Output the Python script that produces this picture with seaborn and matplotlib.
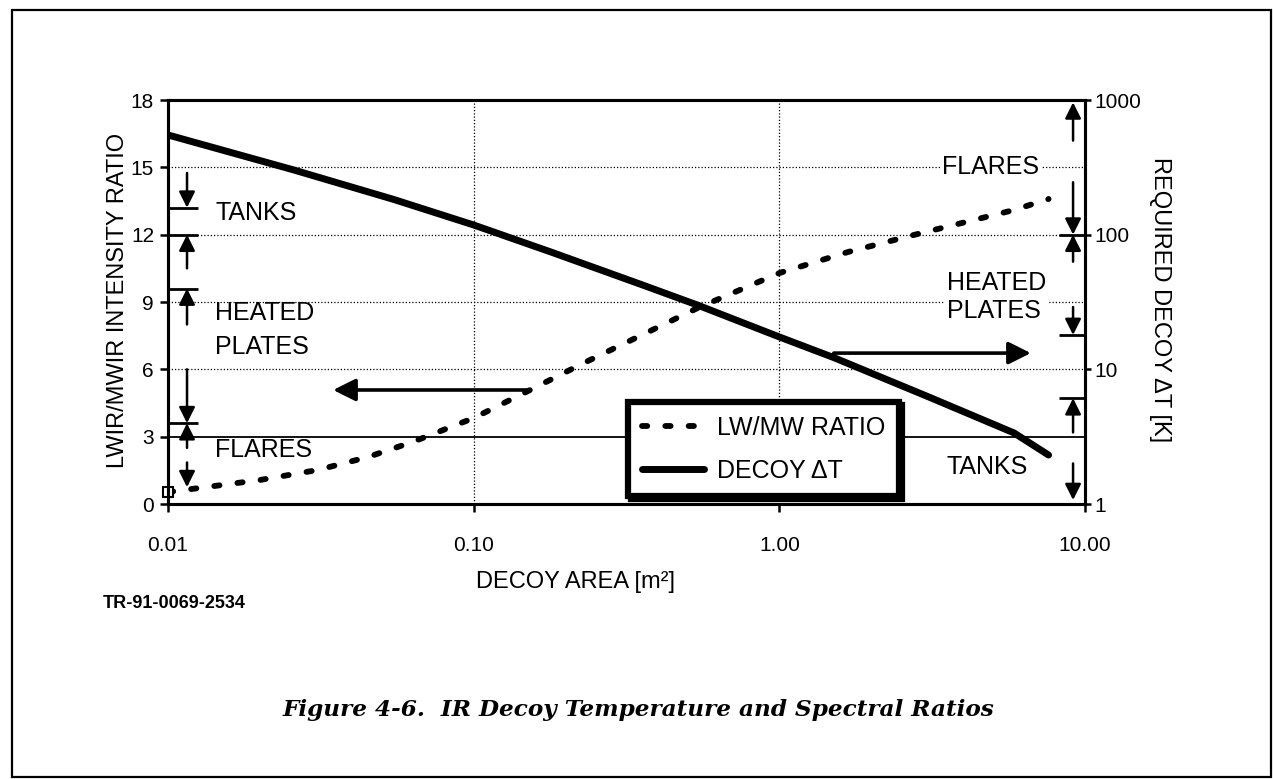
import matplotlib
matplotlib.use("Agg")
import matplotlib.pyplot as plt
from matplotlib.patches import Rectangle
from matplotlib.ticker import NullLocator
import pandas as pd
import seaborn as sns

# LW/MW intensity ratio vs decoy area (left axis)
ratio_area = [0.01, 0.02, 0.031, 0.045, 0.063, 0.10, 0.153, 0.229, 0.344, 0.54, 1.0, 1.68, 2.76, 5.86, 7.6]
ratio_values = [0.53, 1.07, 1.52, 2.09, 2.76, 3.83, 5.08, 6.28, 7.44, 8.73, 10.29, 11.23, 11.99, 13.10, 13.59]

# required decoy delta-T vs decoy area (right axis, log)
dt_area = [0.01, 0.0257, 0.0546, 0.10, 0.18, 0.36, 0.54, 1.0, 1.51, 3.1, 5.86, 7.6]
dt_values = [550, 303, 183, 118, 74, 42, 30, 17.4, 12.2, 6.2, 3.37, 2.31]

x_ticks = [0.01, 0.1, 1, 10]
x_tick_labels = ["0.01", "0.10", "1.00", "10.00"]
left_ticks = [0, 3, 6, 9, 12, 15, 18]
right_ticks = [1, 10, 100, 1000]
right_tick_labels = ["1", "10", "100", "1000"]

# band markers along the left axis (ratio units)
left_bar_levels = [13.2, 12.0, 9.6, 3.6]
left_arrows = [(14.75, 13.2), (10.5, 12.0), (8.0, 9.6), (6.0, 3.6), (2.5, 3.6), (1.85, 0.75)]
left_labels = ["TANKS", "HEATED\nPLATES", "FLARES"]
left_label_levels = [12.97, 7.75, 2.4]

# band markers along the right axis (delta-T units)
right_bar_levels = [100, 18, 6.1]
right_arrows = [(500, 960), (245, 100), (63, 100), (29, 18), (3.4, 6.1), (2.0, 1.07)]
right_labels = ["FLARES", "HEATED\nPLATES", "TANKS"]
right_label_levels = [316, 34.4, 1.88]

W, H = 1273, 779


def band_arrows(axis, x, pairs, lw=1.8, scale=24):
    for tail, head in pairs:
        axis.annotate("", xy=(x, head), xytext=(x, tail),
                      arrowprops=dict(arrowstyle="-|>", color="black", lw=lw,
                                      mutation_scale=scale, shrinkA=0, shrinkB=0))


sns.set_theme(style="white", rc={
    "axes.edgecolor": "black", "axes.linewidth": 2.2,
    "text.color": "black", "axes.labelcolor": "black",
    "xtick.color": "black", "ytick.color": "black",
})
plt.rcParams["font.family"] = ["Liberation Sans", "DejaVu Sans"]

fig = plt.figure(figsize=(W / 100, H / 100), dpi=100)
ax = fig.add_axes([168 / W, 1 - 504 / H, 917 / W, 404 / H])
ax.set_xscale("log")
ax2 = ax.twinx()
ax2.set_yscale("log")

ratio_df = pd.DataFrame({"area": ratio_area, "ratio": ratio_values})
dt_df = pd.DataFrame({"area": dt_area, "dt": dt_values})

sns.lineplot(data=ratio_df, x="area", y="ratio", ax=ax, color="black", lw=4.2,
             linestyle=(0, (0.9, 3.1)))
ax.lines[0].set_dash_capstyle("round")
ax.plot(ratio_area[:1], ratio_values[:1], marker="s", ms=7, mfc="white", mec="black",
        mew=1.5, ls="none", clip_on=False)
sns.lineplot(data=dt_df, x="area", y="dt", ax=ax2, color="black", lw=5)

ax.set_xlim(0.01, 10)
ax.set_ylim(0, 18)
ax2.set_ylim(1, 1000)

ax.set_xticks(x_ticks, x_tick_labels)
ax.xaxis.set_minor_locator(NullLocator())
ax.set_yticks(left_ticks)
ax2.set_yticks(right_ticks, right_tick_labels)
ax2.yaxis.set_minor_locator(NullLocator())
ax.tick_params(axis="x", bottom=True, direction="out", length=6, width=1.8, pad=17, labelsize=15)
ax.tick_params(axis="y", left=True, direction="out", length=6, width=1.8, pad=4, labelsize=15)
ax2.tick_params(axis="y", right=True, direction="out", length=4.5, width=1.8, pad=2, labelsize=15)

ax.grid(True, which="major", color="black", linestyle=(0, (1, 1.6)), linewidth=0.9)
ax.yaxis.get_gridlines()[1].set_linestyle("-")
ax.yaxis.get_gridlines()[1].set_linewidth(1.3)
ax2.grid(False)

ax.set_xlabel("DECOY AREA [m²]", fontsize=17, va="center")
ax.xaxis.set_label_coords((576 - 168) / 917, (504 - 582) / 404)
ax.set_ylabel("LWIR/MWIR INTENSITY RATIO", fontsize=17, va="center")
ax.yaxis.set_label_coords((118 - 168) / 917, 0.505)
ax2.set_ylabel("REQUIRED DECOY ΔT [K]", fontsize=17, rotation=270, va="center")
ax2.yaxis.set_label_coords((1160 - 168) / 917, 0.505)

# left-hand bands
ax.hlines(left_bar_levels, 0.0100, 0.0125, color="black", lw=2)
band_arrows(ax, 0.01154, left_arrows)
for text, lvl in zip(left_labels, left_label_levels):
    ax.text(0.0143, lvl, text, fontsize=18, ha="left", va="center", linespacing=1.55)

# right-hand bands
ax2.hlines(right_bar_levels, 8.2, 10, color="black", lw=2)
band_arrows(ax2, 9.14, right_arrows)
ax2.text(4.92, right_label_levels[0], right_labels[0], fontsize=18, ha="center", va="center",
         bbox=dict(facecolor="white", edgecolor="none", pad=1))
for text, lvl in zip(right_labels[1:], right_label_levels[1:]):
    ax2.text(3.53, lvl, text, fontsize=18, ha="left", va="center", linespacing=1.2,
             bbox=dict(facecolor="white", edgecolor="none", pad=1))

# pointers to the relevant axis
ax.annotate("", xy=(0.0347, 5.08), xytext=(0.1535, 5.08),
            arrowprops=dict(arrowstyle="-|>", color="black", lw=2.6, mutation_scale=34,
                            shrinkA=0, shrinkB=0))
ax2.annotate("", xy=(6.65, 13.2), xytext=(1.507, 13.2),
             arrowprops=dict(arrowstyle="-|>", color="black", lw=2.6, mutation_scale=34,
                             shrinkA=0, shrinkB=0))

handles = [ax.lines[0], ax2.lines[0]]
leg = ax2.legend(handles, ["LW/MW RATIO", "DECOY ΔT"], loc="upper left",
                 bbox_to_anchor=(628 / W, 1 - 402 / H), bbox_transform=fig.transFigure,
                 fontsize=18, frameon=True, fancybox=False, framealpha=1,
                 shadow={"color": "black", "alpha": 1}, edgecolor="black",
                 handlelength=2.5, handletextpad=0.5, borderpad=0.55,
                 labelspacing=0.75, borderaxespad=0)
leg.get_frame().set_linewidth(4.5)

fig.text(103 / W, 1 - 604 / H, "TR-91-0069-2534", fontsize=13, weight="bold",
         ha="left", va="center")
fig.text(638 / W, 1 - 710 / H, "Figure 4-6.  IR Decoy Temperature and Spectral Ratios",
         family="DejaVu Serif", style="italic", weight="bold", fontsize=16.7,
         ha="center", va="center")

fig.add_artist(Rectangle((12 / W, 2 / H), 1259 / W, 767 / H, transform=fig.transFigure,
                         fill=False, lw=1.6, edgecolor="black"))

fig.savefig("out.png", dpi=100)
